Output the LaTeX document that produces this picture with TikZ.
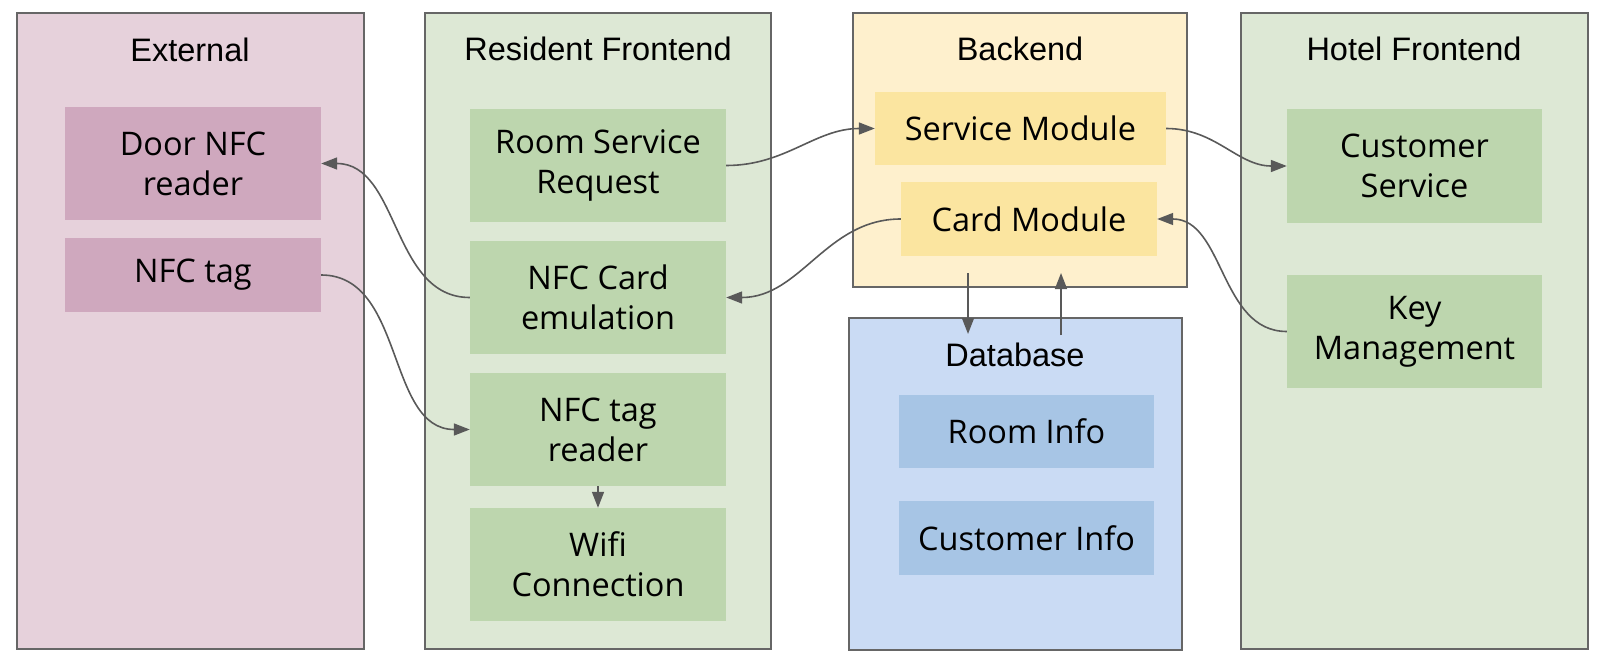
\documentclass[tikz,border=0pt]{standalone}
\usepackage{fontspec}
\setmainfont{Open Sans}
\newfontfamily\titlefont{Liberation Sans}
\usetikzlibrary{arrows.meta}
\definecolor{bordergray}{HTML}{666666}
\definecolor{arrowgray}{HTML}{595959}
\definecolor{extpanel}{HTML}{E6D1DB}
\definecolor{extbox}{HTML}{CFA8BE}
\definecolor{grnpanel}{HTML}{DDE8D5}
\definecolor{grnbox}{HTML}{BDD6AE}
\definecolor{ylwpanel}{HTML}{FEF0CD}
\definecolor{ylwbox}{HTML}{FBE5A0}
\definecolor{blupanel}{HTML}{CADBF4}
\definecolor{blubox}{HTML}{A7C5E5}
\begin{document}
\begin{tikzpicture}[x=1pt,y=-1pt,
  panel/.style={draw=bordergray, line width=1.4pt, inner sep=0pt},
  inbox/.style={inner sep=0pt, align=center, font=\fontsize{32.5pt}{40pt}\selectfont},
  ttl/.style={font=\titlefont\fontsize{32.5pt}{38pt}\selectfont, inner sep=0pt},
  conn/.style={draw=arrowgray, line width=1.6pt, -{Triangle[length=16pt,width=12pt]}}
]
\useasboundingbox (0,0) rectangle (1598,666);
% panels
\node[panel, fill=extpanel, minimum width=347pt, minimum height=636pt] (ext) at (190.5,331) {};
\node[panel, fill=grnpanel, minimum width=346pt, minimum height=636pt] (res) at (598,331) {};
\node[panel, fill=ylwpanel, minimum width=334pt, minimum height=274pt] (back) at (1020,150) {};
\node[panel, fill=blupanel, minimum width=333pt, minimum height=332pt] (db) at (1015.5,484) {};
\node[panel, fill=grnpanel, minimum width=347pt, minimum height=636pt] (hotel) at (1414.5,331) {};
% titles
\node[ttl] (extt) at (190,50) {External};
\node[ttl] (rest) at (598,49) {Resident Frontend};
\node[ttl] (backt) at (1020,49) {Backend};
\node[ttl] (hott) at (1414,49) {Hotel Frontend};
\node[ttl] (dbt) at (1015,355) {Database};
% inner boxes
\node[inbox, fill=extbox, minimum width=256pt, minimum height=113pt] (door) at (193,163.5) {Door NFC\\reader};
\node[inbox, fill=extbox, minimum width=256pt, minimum height=74pt] (tag) at (193,275) {NFC tag};
\node[inbox, fill=grnbox, minimum width=256pt, minimum height=113pt] (rsr) at (598,165.5) {Room Service\\Request};
\node[inbox, fill=grnbox, minimum width=256pt, minimum height=113pt] (nce) at (598,297.5) {NFC Card\\emulation};
\node[inbox, fill=grnbox, minimum width=256pt, minimum height=113pt] (ntr) at (598,429.5) {NFC tag\\reader};
\node[inbox, fill=grnbox, minimum width=256pt, minimum height=113pt] (wifi) at (598,564.5) {Wifi\\Connection};
\node[inbox, fill=ylwbox, minimum width=291pt, minimum height=73pt] (svc) at (1020.5,128.5) {Service Module};
\node[inbox, fill=ylwbox, minimum width=256pt, minimum height=74pt] (card) at (1029,219) {Card Module};
\node[inbox, fill=blubox, minimum width=255pt, minimum height=73pt] (room) at (1026.5,431.5) {Room Info};
\node[inbox, fill=blubox, minimum width=255pt, minimum height=74pt] (cust) at (1026.5,538) {Customer Info};
\node[inbox, fill=grnbox, minimum width=255pt, minimum height=114pt] (cs) at (1414.5,166) {Customer\\Service};
\node[inbox, fill=grnbox, minimum width=255pt, minimum height=113pt] (km) at (1414.5,331.5) {Key\\Management};
% connectors
\draw[conn] (nce.west) to[out=180,in=0] (door.east);
\draw[conn] (tag.east) to[out=0,in=180] (ntr.west);
\draw[conn] (rsr.east) to[out=0,in=180] (svc.west);
\draw[conn] (card.west) to[out=180,in=0] (nce.east);
\draw[conn] (svc.east) to[out=0,in=180] (cs.west);
\draw[conn] (km.west) to[out=180,in=0] (card.east);
\draw[conn] (ntr.south) -- (wifi.north);
\coordinate (bd) at (968,273);
\coordinate (dd) at (968,334);
\coordinate (du) at (1061,335);
\coordinate (bu) at (1061,273);
\draw[conn] (bd) -- (dd);
\draw[conn] (du) -- (bu);
\end{tikzpicture}
\end{document}
